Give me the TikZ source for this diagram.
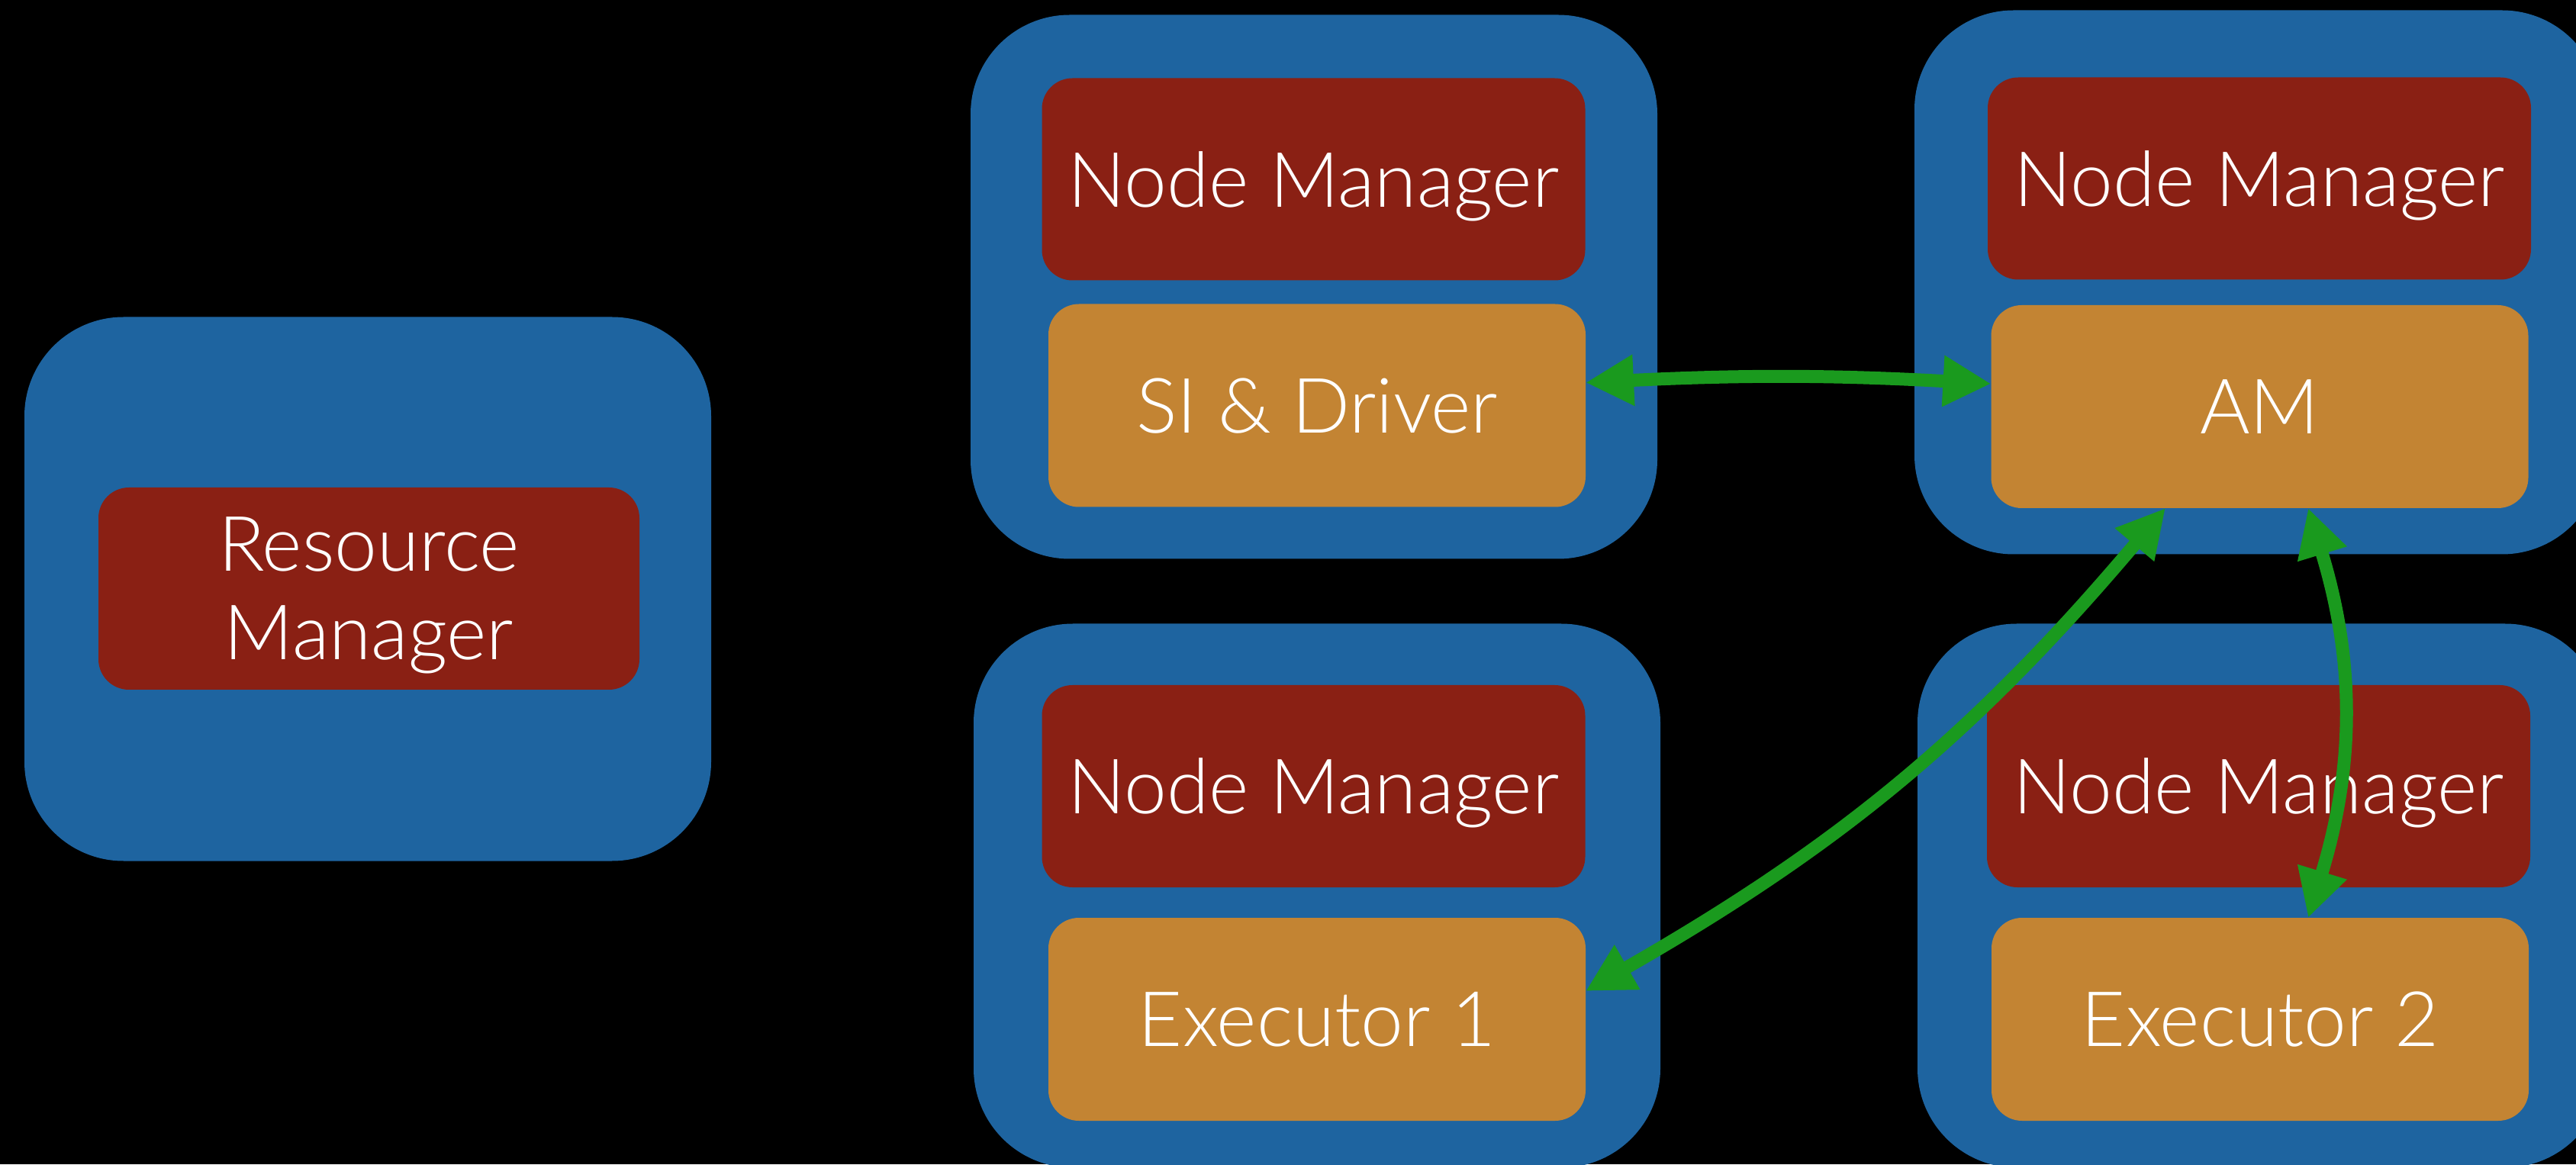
\documentclass[tikz,border=0pt]{standalone}
\usepackage{fontspec}
\setmainfont{Lato}[UprightFont=* Light]
\usetikzlibrary{arrows.meta}
\definecolor{clusterBlue}{HTML}{1E64A0}
\definecolor{managerRed}{HTML}{8A2014}
\definecolor{procOrange}{HTML}{C38433}
\definecolor{linkGreen}{HTML}{1A9A1E}

\begin{document}
\begin{tikzpicture}[
    every node/.style={font=\fontsize{28.5}{33}\selectfont, text=white, inner sep=0pt, outer sep=0pt},
    host/.style={fill=clusterBlue, rounded corners=1.3cm, minimum width=9cm, minimum height=7.13cm},
    mgr/.style={fill=managerRed, rounded corners=0.4cm, minimum width=7.12cm, minimum height=2.65cm, text depth=0pt},
    proc/.style={fill=procOrange, rounded corners=0.4cm, minimum width=7.04cm, minimum height=2.66cm, text depth=0pt},
    link/.style={linkGreen, line width=0.17cm, {Triangle[length=0.63cm,width=0.63cm]}-{Triangle[length=0.63cm,width=0.63cm]}}
]
    \useasboundingbox (0,0) rectangle (33.76,15.26);
    \clip (0,0) rectangle (33.76,15.26);
    \fill[black] (0,0) rectangle (33.76,15.26);

    % hosts
    \node[host] (rmhost) at (4.82,7.54) {};
    \node[host] (drvhost) at (17.22,11.50) {};
    \node[host] (amhost) at (29.59,11.56) {};
    \node[host] (ex1host) at (17.26,3.52) {};
    \node[host] (ex2host) at (29.63,3.52) {};

    % daemons and processes
    \node[mgr, minimum width=7.09cm, align=center] (rm) at (4.835,7.545) {Resource\\Manager};
    \node[mgr] (drvnm) at (17.215,12.91) {Node Manager};
    \node[proc] (drv) at (17.26,9.945) {SI \& Driver};
    \node[mgr] (amnm) at (29.61,12.92) {Node Manager};
    \node[proc] (am) at (29.615,9.93) {AM};
    \node[mgr] (ex1nm) at (17.215,4.955) {Node Manager};
    \node[proc] (ex1) at (17.26,1.90) {Executor 1};
    \node[mgr] (ex2nm) at (29.60,4.955) {Node Manager};
    \node[proc] (ex2) at (29.62,1.90) {Executor 2};

    % links
    \draw[link] ([yshift=0.3cm]drv.east) to[bend left=3] ([yshift=0.3cm]am.west);
    \draw[link] ([yshift=0.37cm]ex1.east) to[bend right=10] ([xshift=-1.235cm]am.south);
    \draw[link] ([xshift=0.635cm]am.south) to[bend left=17] ([xshift=0.63cm]ex2.north);
\end{tikzpicture}
\end{document}
